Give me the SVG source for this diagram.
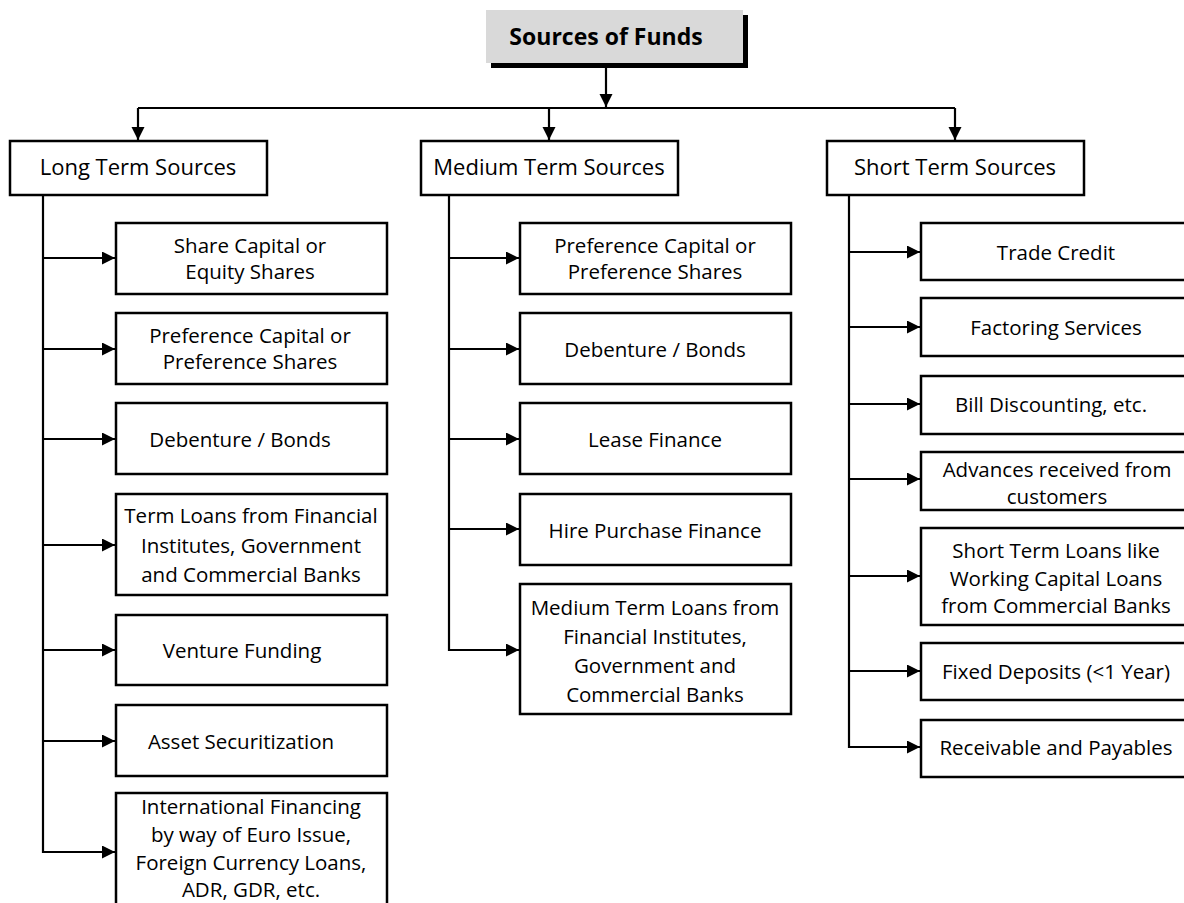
<svg xmlns="http://www.w3.org/2000/svg" width="1184" height="903" viewBox="0 0 1184 903">
<style>
.box{fill:#fff;stroke:#000;stroke-width:2.5}
.t{font-family:"Open Sans","Liberation Sans",sans-serif;font-size:20.5px;fill:#000;text-anchor:middle}
.h{font-size:22px}
.title{font-family:"Open Sans","Liberation Sans",sans-serif;font-size:23px;font-weight:bold;fill:#000;text-anchor:middle}
.c{fill:none;stroke:#000;stroke-width:2.2}
</style>
<defs>
<marker id="ah" markerUnits="userSpaceOnUse" markerWidth="14" markerHeight="14" refX="13" refY="6.5" orient="auto">
<path d="M0,0 L13,6.5 L0,13 Z" fill="#000"/>
</marker>
</defs>
<rect width="1184" height="903" fill="#fff"/>

<g id="connectors">
<path class="c" d="M606,64 V107" marker-end="url(#ah)"/>
<path class="c" d="M138,108 H955"/>
<path class="c" d="M138,108 V140" marker-end="url(#ah)"/>
<path class="c" d="M549,108 V140" marker-end="url(#ah)"/>
<path class="c" d="M955,108 V140" marker-end="url(#ah)"/>
<path class="c" d="M43,196 V853"/>
<path class="c" d="M43,258 H115" marker-end="url(#ah)"/>
<path class="c" d="M43,349 H115" marker-end="url(#ah)"/>
<path class="c" d="M43,439 H115" marker-end="url(#ah)"/>
<path class="c" d="M43,545 H115" marker-end="url(#ah)"/>
<path class="c" d="M43,650 H115" marker-end="url(#ah)"/>
<path class="c" d="M43,741 H115" marker-end="url(#ah)"/>
<path class="c" d="M42,852 H115" marker-end="url(#ah)"/>
<path class="c" d="M449,196 V651"/>
<path class="c" d="M449,258 H519" marker-end="url(#ah)"/>
<path class="c" d="M449,349 H519" marker-end="url(#ah)"/>
<path class="c" d="M449,439 H519" marker-end="url(#ah)"/>
<path class="c" d="M449,529 H519" marker-end="url(#ah)"/>
<path class="c" d="M448,650 H519" marker-end="url(#ah)"/>
<path class="c" d="M849,196 V748"/>
<path class="c" d="M849,252 H920" marker-end="url(#ah)"/>
<path class="c" d="M849,327 H920" marker-end="url(#ah)"/>
<path class="c" d="M849,404 H920" marker-end="url(#ah)"/>
<path class="c" d="M849,479 H920" marker-end="url(#ah)"/>
<path class="c" d="M849,576 H920" marker-end="url(#ah)"/>
<path class="c" d="M849,671 H920" marker-end="url(#ah)"/>
<path class="c" d="M848,747 H920" marker-end="url(#ah)"/>
</g>

<g id="title">
<rect x="491" y="15" width="257" height="53" fill="#000"/>
<rect x="486" y="10" width="257" height="53" fill="#d9d9d9"/>
<text class="title" x="606" y="45">Sources of Funds</text>
</g>

<g id="long">
<rect class="box" x="10" y="141" width="257" height="54"/>
<text class="t h" x="138" y="175">Long Term Sources</text>
</g>
<g id="medium">
<rect class="box" x="421" y="141" width="257" height="54"/>
<text class="t h" x="549" y="175">Medium Term Sources</text>
</g>
<g id="short">
<rect class="box" x="827" y="141" width="257" height="54"/>
<text class="t h" x="955" y="175">Short Term Sources</text>
</g>

<g id="l1"><rect class="box" x="116" y="223" width="271" height="71"/>
<text class="t" x="250" y="253">Share Capital or</text><text class="t" x="250" y="279">Equity Shares</text></g>
<g id="l2"><rect class="box" x="116" y="313" width="271" height="71"/>
<text class="t" x="250" y="343">Preference Capital or</text><text class="t" x="250" y="369">Preference Shares</text></g>
<g id="l3"><rect class="box" x="116" y="403" width="271" height="71"/>
<text class="t" x="240" y="447">Debenture / Bonds</text></g>
<g id="l4"><rect class="box" x="116" y="494" width="271" height="101"/>
<text class="t" x="251" y="523">Term Loans from Financial</text><text class="t" x="251" y="553">Institutes, Government</text><text class="t" x="251" y="582">and Commercial Banks</text></g>
<g id="l5"><rect class="box" x="116" y="615" width="271" height="70"/>
<text class="t" x="242" y="658">Venture Funding</text></g>
<g id="l6"><rect class="box" x="116" y="705" width="271" height="71"/>
<text class="t" x="241" y="749">Asset Securitization</text></g>
<g id="l7"><rect class="box" x="116" y="793" width="271" height="125"/>
<text class="t" x="251" y="814">International Financing</text><text class="t" x="251" y="842">by way of Euro Issue,</text><text class="t" x="251" y="870">Foreign Currency Loans,</text><text class="t" x="251" y="897">ADR, GDR, etc.</text></g>

<g id="m1"><rect class="box" x="520" y="223" width="271" height="71"/>
<text class="t" x="655" y="253">Preference Capital or</text><text class="t" x="655" y="279">Preference Shares</text></g>
<g id="m2"><rect class="box" x="520" y="313" width="271" height="71"/>
<text class="t" x="655" y="357">Debenture / Bonds</text></g>
<g id="m3"><rect class="box" x="520" y="403" width="271" height="71"/>
<text class="t" x="655" y="447">Lease Finance</text></g>
<g id="m4"><rect class="box" x="520" y="494" width="271" height="71"/>
<text class="t" x="655" y="538">Hire Purchase Finance</text></g>
<g id="m5"><rect class="box" x="520" y="584" width="271" height="130"/>
<text class="t" x="655" y="615">Medium Term Loans from</text><text class="t" x="655" y="644">Financial Institutes,</text><text class="t" x="655" y="673">Government and</text><text class="t" x="655" y="702">Commercial Banks</text></g>

<g id="s1"><rect class="box" x="921" y="223" width="271" height="57"/>
<text class="t" x="1056" y="260">Trade Credit</text></g>
<g id="s2"><rect class="box" x="921" y="298" width="271" height="58"/>
<text class="t" x="1056" y="335">Factoring Services</text></g>
<g id="s3"><rect class="box" x="921" y="376" width="271" height="58"/>
<text class="t" x="1051" y="412">Bill Discounting, etc.</text></g>
<g id="s4"><rect class="box" x="921" y="452" width="271" height="58"/>
<text class="t" x="1057" y="477">Advances received from</text><text class="t" x="1057" y="504">customers</text></g>
<g id="s5"><rect class="box" x="921" y="528" width="271" height="97"/>
<text class="t" x="1056" y="558">Short Term Loans like</text><text class="t" x="1056" y="586">Working Capital Loans</text><text class="t" x="1056" y="613">from Commercial Banks</text></g>
<g id="s6"><rect class="box" x="921" y="643" width="271" height="57"/>
<text class="t" x="1056" y="679">Fixed Deposits (&lt;1 Year)</text></g>
<g id="s7"><rect class="box" x="921" y="720" width="271" height="57"/>
<text class="t" x="1056" y="755">Receivable and Payables</text></g>
</svg>
